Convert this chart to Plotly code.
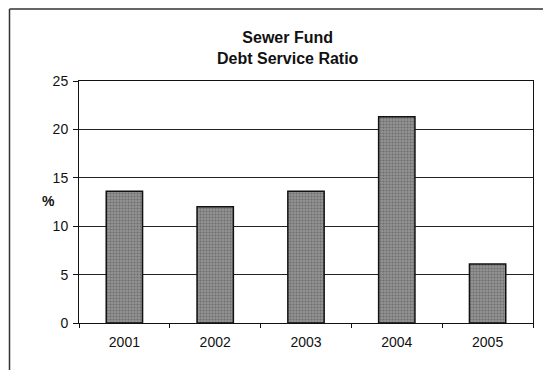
import plotly.graph_objects as go

years = ["2001", "2002", "2003", "2004", "2005"]
ratio = [13.6, 12.0, 13.6, 21.3, 6.1]
y_ticks = [0, 5, 10, 15, 20, 25]

W, H = 543, 370
L, R, T, B = 79, 10, 81, 47
pw, ph = W - L - R, H - T - B

def px2x(px):
    return (px - L) / pw

def px2y(py):
    return (H - B - py) / ph

fig = go.Figure()
fig.add_trace(go.Bar(
    x=years, y=ratio,
    marker=dict(color="#939393", line=dict(color="#111", width=1.5),
                pattern=dict(shape=".", fgcolor="#4a4a4a", size=3, solidity=0.4, fillmode="overlay")),
    width=0.4,
))

fig.update_layout(
    width=W, height=H,
    margin=dict(l=L, r=R, t=T, b=B),
    paper_bgcolor="white", plot_bgcolor="white",
    showlegend=False,
    font=dict(family="Liberation Sans, Arial", size=14, color="#111"),
    xaxis=dict(type="category", showgrid=False, showline=True, linecolor="#111", linewidth=1,
               mirror=True, ticks="outside", tickson="boundaries", ticklen=4, tickcolor="#111",
               tickfont=dict(size=14), ticklabelstandoff=6),
    yaxis=dict(range=[0, 25], tickvals=y_ticks, showgrid=True, gridcolor="#222", gridwidth=1,
               showline=True, linecolor="#111", linewidth=1, mirror=True,
               ticks="outside", ticklen=5, tickcolor="#111", tickfont=dict(size=14),
               ticklabelstandoff=2, zeroline=False),
)

fig.add_annotation(text="<b>Sewer Fund</b><br><b>Debt Service Ratio</b>", xref="paper", yref="paper",
                   x=px2x(288), y=px2y(48), showarrow=False, font=dict(size=16, color="#111"),
                   xanchor="center", yanchor="middle", align="center")
fig.add_annotation(text="<b>%</b>", xref="paper", yref="paper", x=px2x(40), y=px2y(201),
                   showarrow=False, font=dict(size=14, color="#111"))

# outer chart frame (left and top edges visible)
fig.add_shape(type="line", xref="paper", yref="paper", x0=px2x(9.5), x1=px2x(9.5),
              y0=px2y(9), y1=px2y(372), line=dict(color="#333", width=1.5))
fig.add_shape(type="line", xref="paper", yref="paper", x0=px2x(9.5), x1=px2x(545),
              y0=px2y(9), y1=px2y(9), line=dict(color="#333", width=1.5))

fig.write_html("out.html")
